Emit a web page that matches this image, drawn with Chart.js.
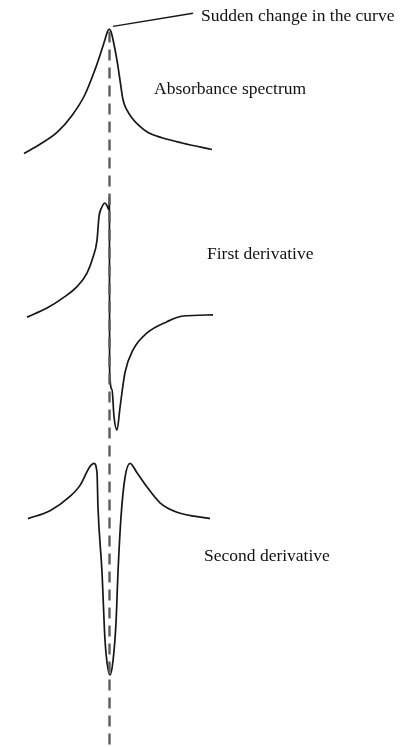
<!DOCTYPE html>
<html lang="en">
<head>
<meta charset="utf-8">
<title>Derivative spectra</title>
<script src="https://cdn.jsdelivr.net/npm/chart.js@4.4.1/dist/chart.umd.min.js"></script>
<style>
    html, body { margin: 0; padding: 0; background: #fff; }
    .wrap { position: relative; width: 409px; height: 747px; overflow: hidden; }
    .wrap canvas { position: absolute; left: 0; top: 0; }
    .lbl {
        position: absolute;
        font-family: "Liberation Serif", "DejaVu Serif", serif;
        font-size: 17.5px;
        line-height: 20px;
        color: #111;
        white-space: nowrap;
    }
</style>
</head>
<body>
<div class="wrap">
    <canvas id="chart-spectra"></canvas>
    <div class="lbl" style="left:201px; top:5px;">Sudden change in the curve</div>
    <div class="lbl" style="left:154px; top:78px;">Absorbance spectrum</div>
    <div class="lbl" style="left:207px; top:243px;">First derivative</div>
    <div class="lbl" style="left:204px; top:545px;">Second derivative</div>
</div>

<script>
/* ============================================================
   DADOS (unidades arbitrárias)
   x = comprimento de onda (u.a.), y = sinal normalizado
   ============================================================ */
const ABS_X = [24, 40, 57, 72, 85, 95, 100, 105, 107, 109, 111, 113, 117, 120, 123, 127, 132, 138, 148, 162, 182, 212];
const ABS_Y = [0.05, 0.12, 0.21, 0.34, 0.50, 0.69, 0.80, 0.92, 0.97, 1.00, 0.98, 0.92, 0.76, 0.61, 0.46, 0.38, 0.32, 0.27, 0.21, 0.17, 0.13, 0.08];

const D1_X = [27, 47, 63, 77, 87, 93, 97, 99, 101.7, 105, 107.3, 109, 109.4, 109.6, 112, 114, 117, 120, 125, 133, 147, 167, 183, 213];
const D1_Y = [-0.01, 0.07, 0.16, 0.26, 0.38, 0.52, 0.67, 0.88, 0.96, 1.00, 0.97, 0.94, 1.05, -0.48, -0.65, -0.89, -1.01, -0.81, -0.50, -0.30, -0.15, -0.05, 0.00, 0.01];

const D2_X = [28, 50, 70, 80, 90, 94, 97, 98, 102, 105, 107, 110, 113, 116, 118, 121, 125, 130, 137, 147, 160, 177, 210];
const D2_Y = [-0.01, 0.04, 0.13, 0.20, 0.32, 0.34, 0.28, 0.06, -0.35, -0.78, -0.92, -1.00, -0.91, -0.67, -0.35, 0.00, 0.25, 0.34, 0.28, 0.19, 0.09, 0.03, -0.01];

// linha de referência no máximo de absorção e chamada do texto
const PEAK_X = 109.5;
const GUIDE_TOP = 0.98;
const CALLOUT_X = [113, 193];
const CALLOUT_Y = [1.02, 1.12];

/* ============================================================
   LAYOUT — posição vertical de cada curva na página (px)
   ============================================================ */
const W = 409, H = 747;
const FAIXA = {
    abs: { zero: 160, unidade: 131 },
    d1:  { zero: 316, unidade: 113 },
    d2:  { zero: 517, unidade: 158 },
};

const COR = {
    curva: '#161616',
    guia:  '#5c5c5c',
};

// eixo y que coloca o zero e a unidade de cada curva na altura certa
function eixo(f) {
    return {
        type: 'linear',
        display: false,
        min: (f.zero - H) / f.unidade,
        max: f.zero / f.unidade,
    };
}

function pontos(xs, ys) {
    return xs.map((x, i) => ({ x, y: ys[i] }));
}

function curva(xs, ys, eixoY) {
    return {
        data: pontos(xs, ys),
        yAxisID: eixoY,
        showLine: true,
        borderColor: COR.curva,
        borderWidth: 1.7,
        cubicInterpolationMode: 'monotone',
        pointRadius: 0,
        fill: false,
    };
}

document.addEventListener('DOMContentLoaded', () => {

    const yAbs = eixo(FAIXA.abs);

    new Chart(document.getElementById('chart-spectra'), {
        type: 'scatter',
        data: {
            datasets: [
                // linha tracejada vertical passando pelo pico
                {
                    data: [{ x: PEAK_X, y: GUIDE_TOP }, { x: PEAK_X, y: yAbs.min }],
                    yAxisID: 'yAbs',
                    showLine: true,
                    borderColor: COR.guia,
                    borderWidth: 2.4,
                    borderDash: [11, 7],
                    pointRadius: 0,
                },
                curva(ABS_X, ABS_Y, 'yAbs'),
                curva(D1_X, D1_Y, 'yD1'),
                curva(D2_X, D2_Y, 'yD2'),
                // traço que liga o pico ao texto
                {
                    data: pontos(CALLOUT_X, CALLOUT_Y),
                    yAxisID: 'yAbs',
                    showLine: true,
                    borderColor: COR.curva,
                    borderWidth: 1.5,
                    pointRadius: 0,
                },
            ]
        },
        options: {
            responsive: true,
            maintainAspectRatio: false,
            animation: false,
            events: [],
            layout: { padding: 0 },
            plugins: {
                legend: { display: false },
                tooltip: { enabled: false },
            },
            scales: {
                x: { type: 'linear', display: false, min: 0, max: W },
                yAbs: yAbs,
                yD1: eixo(FAIXA.d1),
                yD2: eixo(FAIXA.d2),
            }
        }
    });
});
</script>
</body>
</html>
